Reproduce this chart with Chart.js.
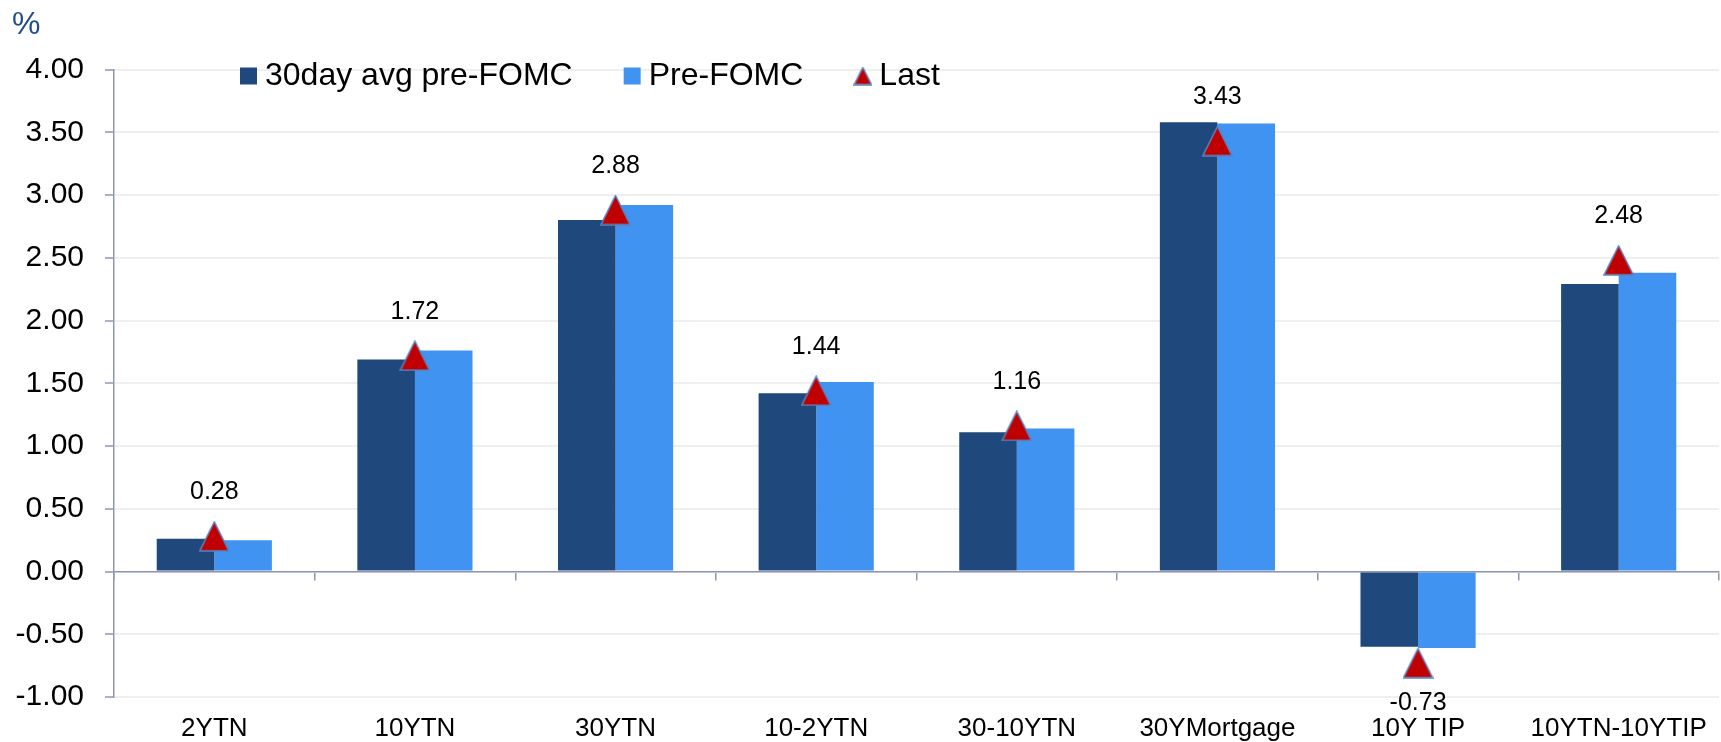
<!DOCTYPE html>
<html>
<head>
<meta charset="utf-8">
<script src="https://cdn.jsdelivr.net/npm/chart.js@4/dist/chart.umd.min.js"></script>
<style>
  html, body { margin: 0; padding: 0; background: #ffffff; overflow: hidden; }
  canvas { display: block; }
</style>
</head>
<body>
<canvas id="rates" width="1735" height="742"></canvas>
<script>
// Yield levels around the FOMC meeting, in percent
const categories = ['2YTN', '10YTN', '30YTN', '10-2YTN', '30-10YTN', '30YMortgage', '10Y TIP', '10YTN-10YTIP'];
const avgPreFomc = [0.26, 1.69, 2.80, 1.42, 1.11, 3.58, -0.60, 2.29];
const preFomc    = [0.25, 1.76, 2.92, 1.51, 1.14, 3.57, -0.61, 2.38];
const lastValues = [0.28, 1.72, 2.88, 1.44, 1.16, 3.43, -0.73, 2.48];
const seriesNames = ['30day avg pre-FOMC', 'Pre-FOMC', 'Last'];

const DARK = '#1F497D';
const LIGHT = '#4193F1';
const MARKER_FILL = '#C00000';
const MARKER_EDGE = '#5A83BE';
const AXIS = '#8E96B4';
const GRID = '#EFEFEF';
const FONT = "'Liberation Sans', Arial, sans-serif";

Chart.defaults.font.family = FONT;
Chart.defaults.color = '#000000';

// Red triangle marker with a thin blue edge, centred on its box
function triangleMarker(w, h) {
  const c = document.createElement('canvas');
  c.width = w; c.height = h;
  const g = c.getContext('2d');
  g.beginPath();
  g.moveTo(w / 2, 1);
  g.lineTo(w - 1, h - 1);
  g.lineTo(1, h - 1);
  g.closePath();
  g.fillStyle = MARKER_FILL;
  g.fill();
  g.lineWidth = 1.5;
  g.strokeStyle = MARKER_EDGE;
  g.stroke();
  return c;
}
const pointMarker = triangleMarker(31, 31);
const legendMarker = triangleMarker(19, 19);

const LAST_INDEX = 0; // dataset index of the "Last" markers

// Value labels above (or below, for negatives) the "Last" markers
const valueLabels = {
  id: 'valueLabels',
  afterDatasetsDraw(chart) {
    const meta = chart.getDatasetMeta(LAST_INDEX);
    const ctx = chart.ctx;
    ctx.save();
    ctx.font = '25px ' + FONT;
    ctx.fillStyle = '#000000';
    ctx.textAlign = 'center';
    ctx.textBaseline = 'middle';
    meta.data.forEach((pt, i) => {
      const v = lastValues[i];
      const y = v >= 0 ? pt.y - 44 : pt.y + 40;
      ctx.fillText(v.toFixed(2), pt.x, y);
    });
    ctx.restore();
  }
};

// Legend sits inside the plot, over the top gridline, so it takes no layout height
const LEGEND_PAD = 59;
const LEGEND_OFFSET = { x: 75, y: -68.5 };
const floatingLegend = {
  id: 'floatingLegend',
  beforeUpdate(chart) {
    const lg = chart.legend;
    if (lg && !lg._floating) {
      const fit = lg.fit;
      lg.fit = function () {
        fit.call(this);
        this._fullHeight = this.height;
        this.height = 0;
      };
      lg._floating = true;
    }
  },
  afterLayout(chart) {
    const lg = chart.legend;
    const area = chart.chartArea;
    const w = lg.right - lg.left;
    lg.left = area.left + LEGEND_OFFSET.x;
    lg.right = lg.left + w;
    lg.top = area.top + LEGEND_OFFSET.y;
    lg.bottom = lg.top + (lg._fullHeight || 160);
  }
};

new Chart(document.getElementById('rates'), {
  type: 'bar',
  data: {
    labels: categories,
    datasets: [
      {
        type: 'line',
        label: seriesNames[2],
        data: lastValues,
        xAxisID: 'x',
        showLine: false,
        pointStyle: pointMarker,
        pointRadius: 15,
        order: -1
      },
      {
        label: seriesNames[0],
        data: avgPreFomc,
        xAxisID: 'x',
        backgroundColor: DARK,
        borderWidth: 0,
        barPercentage: 1,
        categoryPercentage: 0.574,
        order: 1
      },
      {
        label: seriesNames[1],
        data: preFomc,
        xAxisID: 'x',
        backgroundColor: LIGHT,
        borderWidth: 0,
        barPercentage: 1,
        categoryPercentage: 0.574,
        order: 2
      }
    ]
  },
  options: {
    responsive: false,
    animation: false,
    events: [],
    layout: { padding: { left: 12, right: 4, top: 0, bottom: 0 } },
    plugins: {
      title: {
        display: true,
        text: '%',
        align: 'start',
        color: '#1F4E8C',
        font: { size: 32, weight: 'normal' },
        padding: { top: 6, bottom: 25.1 }
      },
      legend: {
        display: true,
        position: 'top',
        align: 'start',
        labels: {
          usePointStyle: true,
          boxWidth: 1,
          boxHeight: 17,
          padding: LEGEND_PAD,
          color: '#000000',
          font: { size: 32 },
          generateLabels() {
            return [
              { text: seriesNames[0], fillStyle: DARK, strokeStyle: DARK, lineWidth: 0, pointStyle: 'rect', hidden: false, datasetIndex: 1 },
              { text: seriesNames[1], fillStyle: LIGHT, strokeStyle: LIGHT, lineWidth: 0, pointStyle: 'rect', hidden: false, datasetIndex: 2 },
              { text: seriesNames[2], fillStyle: MARKER_FILL, strokeStyle: MARKER_EDGE, lineWidth: 0, pointStyle: legendMarker, hidden: false, datasetIndex: 0 }
            ];
          }
        }
      },
      tooltip: { enabled: false }
    },
    scales: {
      x: {
        type: 'category',
        position: 'bottom',
        offset: true,
        afterFit(scale) { scale.height = scale.options.ticks.padding + 26; },
        grid: { display: false, drawTicks: false, offset: true },
        border: { display: false },
        ticks: {
          autoSkip: false,
          maxRotation: 0,
          minRotation: 0,
          padding: 19,
          color: '#000000',
          font: { size: 26, lineHeight: 1 }
        }
      },
      x2: {
        type: 'category',
        position: { y: 0 },
        offset: true,
        afterFit(scale) { scale.height = 0; },
        grid: {
          offset: true,
          drawOnChartArea: false,
          drawTicks: true,
          tickLength: 8,
          color: AXIS,
          lineWidth: 1.5
        },
        border: { display: true, color: AXIS, width: 1.5 },
        ticks: { display: false }
      },
      y: {
        type: 'linear',
        position: 'left',
        min: -1,
        max: 4,
        afterFit(scale) { scale.width = 102; },
        ticks: {
          stepSize: 0.5,
          padding: 21,
          color: '#000000',
          font: { size: 30 },
          callback: (v) => Number(v).toFixed(2)
        },
        grid: {
          color: GRID,
          lineWidth: 2,
          drawTicks: true,
          tickLength: 9,
          tickColor: AXIS,
          tickWidth: 1.5
        },
        border: { display: true, color: AXIS, width: 1.5 }
      }
    }
  },
  plugins: [floatingLegend, valueLabels]
});
</script>
</body>
</html>
